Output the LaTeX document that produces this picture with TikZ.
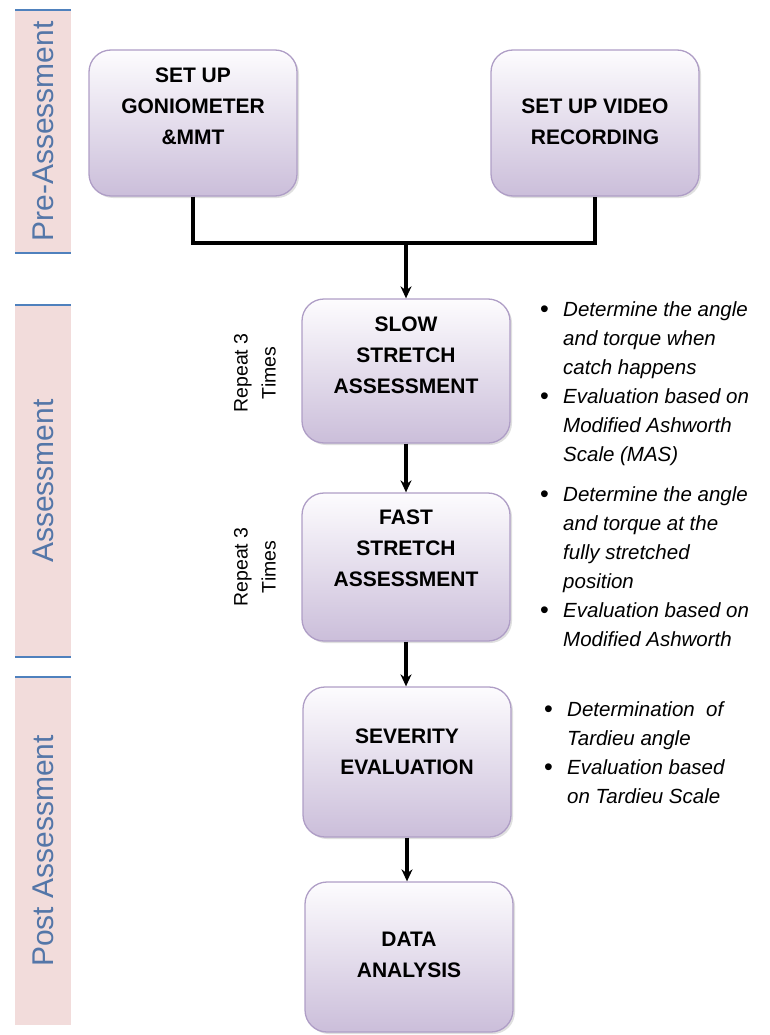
\documentclass[tikz,border=0pt]{standalone}
\usepackage{fontspec}
\setmainfont{Liberation Sans}
\usetikzlibrary{arrows.meta, positioning, shadows}

\definecolor{bandfill}{RGB}{242,220,219}
\definecolor{bandline}{RGB}{79,129,189}
\definecolor{bandtext}{RGB}{84,118,168}
\definecolor{boxline}{RGB}{175,158,198}
\definecolor{boxtop}{RGB}{253,252,254}
\definecolor{boxbot}{RGB}{203,190,218}

\newcommand{\bul}{\makebox[23pt][l]{\raisebox{-1.5pt}{\upshape\fontsize{25}{25}\selectfont\textbullet}}}
\newcommand{\ind}{\hspace*{23pt}}

\begin{document}
\begin{tikzpicture}[x=1pt, y=-1pt,
  stage/.style={rectangle, draw=boxline, line width=1.3pt, rounded corners=22pt,
                top color=boxtop, bottom color=boxbot,
                minimum width=208pt, minimum height=146pt,
                drop shadow={opacity=0.25, shadow xshift=2pt, shadow yshift=-2pt}},
  stagetext/.style={align=center, inner sep=0pt, font=\fontsize{21}{31}\selectfont\bfseries},
  note/.style={anchor=north west, inner sep=0pt, align=left,
               font=\fontsize{20.5}{29}\selectfont\itshape},
  repeatnote/.style={rotate=90, align=center, font=\fontsize{19.5}{28}\selectfont},
  bandlabel/.style={rotate=90, text=bandtext, font=\fontsize{30}{30}\selectfont},
  link/.style={line width=3.2pt},
  arrow/.style={-{Stealth[length=12pt,width=11pt]}, line width=3.2pt}
]
\useasboundingbox (0,0) rectangle (769,1035);

% phase bands on the left
\foreach \ytop/\ybot/\bname/\btext in {10/253/pre/Pre-Assessment,
    305/657/asm/Assessment, 677/1025/post/Post Assessment}{
  \fill[bandfill] (15,\ytop) rectangle (71,\ybot);
  \draw[bandline, line width=1.5pt] (15,\ytop) -- (71,\ytop);
  \node[bandlabel] (\bname) at (43,{(\ytop+\ybot)/2}) {\btext};
}
\draw[bandline, line width=1.5pt] (15,253) -- (71,253) (15,657) -- (71,657);

% stages
\node[stage] (gonio) at (193,123) {};
\node[stagetext] (goniotxt) at ([yshift=17pt]gonio.center) {SET UP\\GONIOMETER\\\&MMT};
\node[stage] (video) at (595,123) {};
\node[stagetext] (videotxt) at ([yshift=1pt]video.center) {SET UP VIDEO\\RECORDING};
\node[stage, minimum height=144pt] (slow) at (406,371) {};
\node[stagetext] (slowtxt) at ([yshift=16pt]slow.center) {SLOW\\STRETCH\\ASSESSMENT};
\node[stage, minimum height=148pt] (fast) at (406,567) {};
\node[stagetext] (fasttxt) at ([yshift=19pt]fast.center) {FAST\\STRETCH\\ASSESSMENT};
\node[stage, minimum height=150pt] (sever) at (407,762) {};
\node[stagetext] (severtxt) at ([yshift=10pt]sever.center) {SEVERITY\\EVALUATION};
\node[stage, minimum height=150pt] (data) at (409,957) {};
\node[stagetext] (datatxt) at ([yshift=2pt]data.center) {DATA\\ANALYSIS};

% connectors
\coordinate (junc) at (406,243);
\draw[link] (gonio.south) |- (junc) -| (video.south);
\draw[arrow] (junc) -- (slow.north);
\draw[arrow] (slow.south) -- (slow.south |- fast.north);
\draw[arrow] (fast.south) -- (fast.south |- sever.north);
\draw[arrow] (sever.south) -- (sever.south |- data.north);

% repeat notes
\node[repeatnote] (rep1) at (255,373) {Repeat 3\\Times};
\node[repeatnote] (rep2) at (255,567) {Repeat 3\\Times};

% bullet notes
\node[note] (slownote) at (540,301) {\bul Determine the angle\\
  \ind and torque when\\ \ind catch happens\\
  \bul Evaluation based on\\ \ind Modified Ashworth\\ \ind Scale (MAS)};
\node[note] (fastnote) at (540,486) {\bul Determine the angle\\
  \ind and torque at the\\ \ind fully stretched\\ \ind position\\
  \bul Evaluation based on\\ \ind Modified Ashworth};
\node[note] (severnote) at (544,701) {\bul Determination\ \ of\\
  \ind Tardieu angle\\
  \bul Evaluation based\\ \ind on Tardieu Scale};
\end{tikzpicture}
\end{document}
